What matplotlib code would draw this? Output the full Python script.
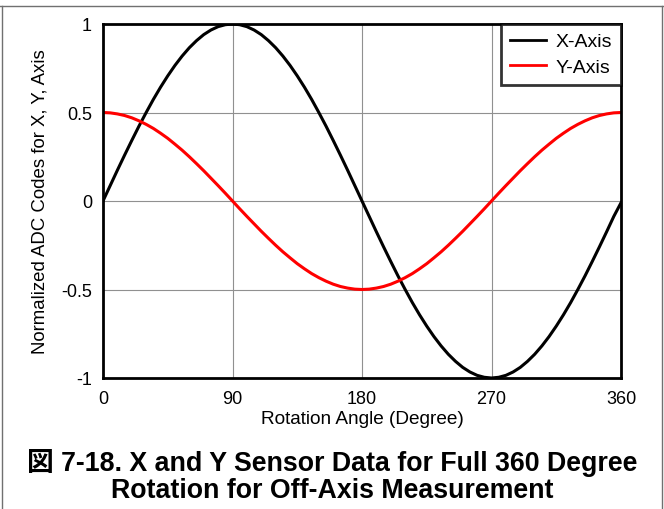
import numpy as np
import matplotlib.pyplot as plt
from matplotlib.lines import Line2D

# angles (degrees) and normalized ADC codes, every 5 degrees
angle = list(range(0, 361, 5))
x_axis = [0.0, 0.087, 0.174, 0.259, 0.342, 0.423, 0.5, 0.574, 0.643, 0.707, 0.766, 0.819, 0.866, 0.906, 0.94, 0.966, 0.985, 0.996,
          1.0, 0.996, 0.985, 0.966, 0.94, 0.906, 0.866, 0.819, 0.766, 0.707, 0.643, 0.574, 0.5, 0.423, 0.342, 0.259, 0.174, 0.087,
          0.0, -0.087, -0.174, -0.259, -0.342, -0.423, -0.5, -0.574, -0.643, -0.707, -0.766, -0.819, -0.866, -0.906, -0.94, -0.966, -0.985, -0.996,
          -1.0, -0.996, -0.985, -0.966, -0.94, -0.906, -0.866, -0.819, -0.766, -0.707, -0.643, -0.574, -0.5, -0.423, -0.342, -0.259, -0.174, -0.087,
          -0.01]
y_axis = [0.5, 0.498, 0.492, 0.483, 0.47, 0.453, 0.433, 0.41, 0.383, 0.354, 0.321, 0.287, 0.25, 0.211, 0.171, 0.129, 0.087, 0.044,
          0.0, -0.044, -0.087, -0.129, -0.171, -0.211, -0.25, -0.287, -0.321, -0.354, -0.383, -0.41, -0.433, -0.453, -0.47, -0.483, -0.492, -0.498,
          -0.5, -0.498, -0.492, -0.483, -0.47, -0.453, -0.433, -0.41, -0.383, -0.354, -0.321, -0.287, -0.25, -0.211, -0.171, -0.129, -0.087, -0.044,
          0.0, 0.044, 0.087, 0.129, 0.171, 0.211, 0.25, 0.287, 0.321, 0.354, 0.383, 0.41, 0.433, 0.453, 0.47, 0.483, 0.492, 0.498,
          0.5]

xticks = [0, 90, 180, 270, 360]
yticks = [-1, -0.5, 0, 0.5, 1]
ytick_labels = ['-1', '-0.5', '0', '0.5', '1']

plt.rcParams['font.family'] = ['Liberation Sans', 'Noto Sans CJK JP']

fig = plt.figure(figsize=(6.64, 5.10), dpi=100)
ax = fig.add_axes([103/664, 1-379/510, (621-103)/664, (379-25)/510])

ax.plot(angle, x_axis, color='black', lw=2.2, label='X-Axis')
ax.plot(angle, y_axis, color='#ff0000', lw=2.2, label='Y-Axis')

ax.set_xlim(0, 360)
ax.set_ylim(-1, 1)
ax.set_xticks(xticks)
ax.set_yticks(yticks)
ax.set_yticklabels(ytick_labels)
ax.tick_params(axis='x', length=0, labelsize=13, pad=9)
ax.tick_params(axis='y', length=0, labelsize=13, pad=8)
ax.grid(True, color='#909090', lw=0.8)
for s in ax.spines.values():
    s.set_linewidth(2)
ax.set_xlabel('Rotation Angle (Degree)', fontsize=13.7, labelpad=2)
ax.set_ylabel('Normalized ADC Codes for X, Y, Axis', fontsize=13.4, labelpad=9)

leg = ax.legend(loc='upper right', fontsize=14, frameon=True, fancybox=False,
                borderaxespad=0, handlelength=1.85, handletextpad=0.5,
                labelspacing=0.4, borderpad=0.45)
leg.get_frame().set_edgecolor('black')
leg.get_frame().set_linewidth(2)
for h in leg.get_lines():
    h.set_linewidth(2)

fig.text(0.5, 1-463/510, '図 7-18. X and Y Sensor Data for Full 360 Degree',
         ha='center', va='center', fontsize=19.3, fontweight='bold')
fig.text(0.5, 1-491/510, 'Rotation for Off-Axis Measurement',
         ha='center', va='center', fontsize=19.3, fontweight='bold')

# page frame
fig.add_artist(Line2D([0, 1], [1-7/510, 1-7/510], color='#707070', lw=1))
fig.add_artist(Line2D([1.5/664, 1.5/664], [0, 1-7/510], color='#707070', lw=1))
fig.add_artist(Line2D([661.5/664, 661.5/664], [0, 1-7/510], color='#707070', lw=1))

fig.savefig('out.png', dpi=100)
